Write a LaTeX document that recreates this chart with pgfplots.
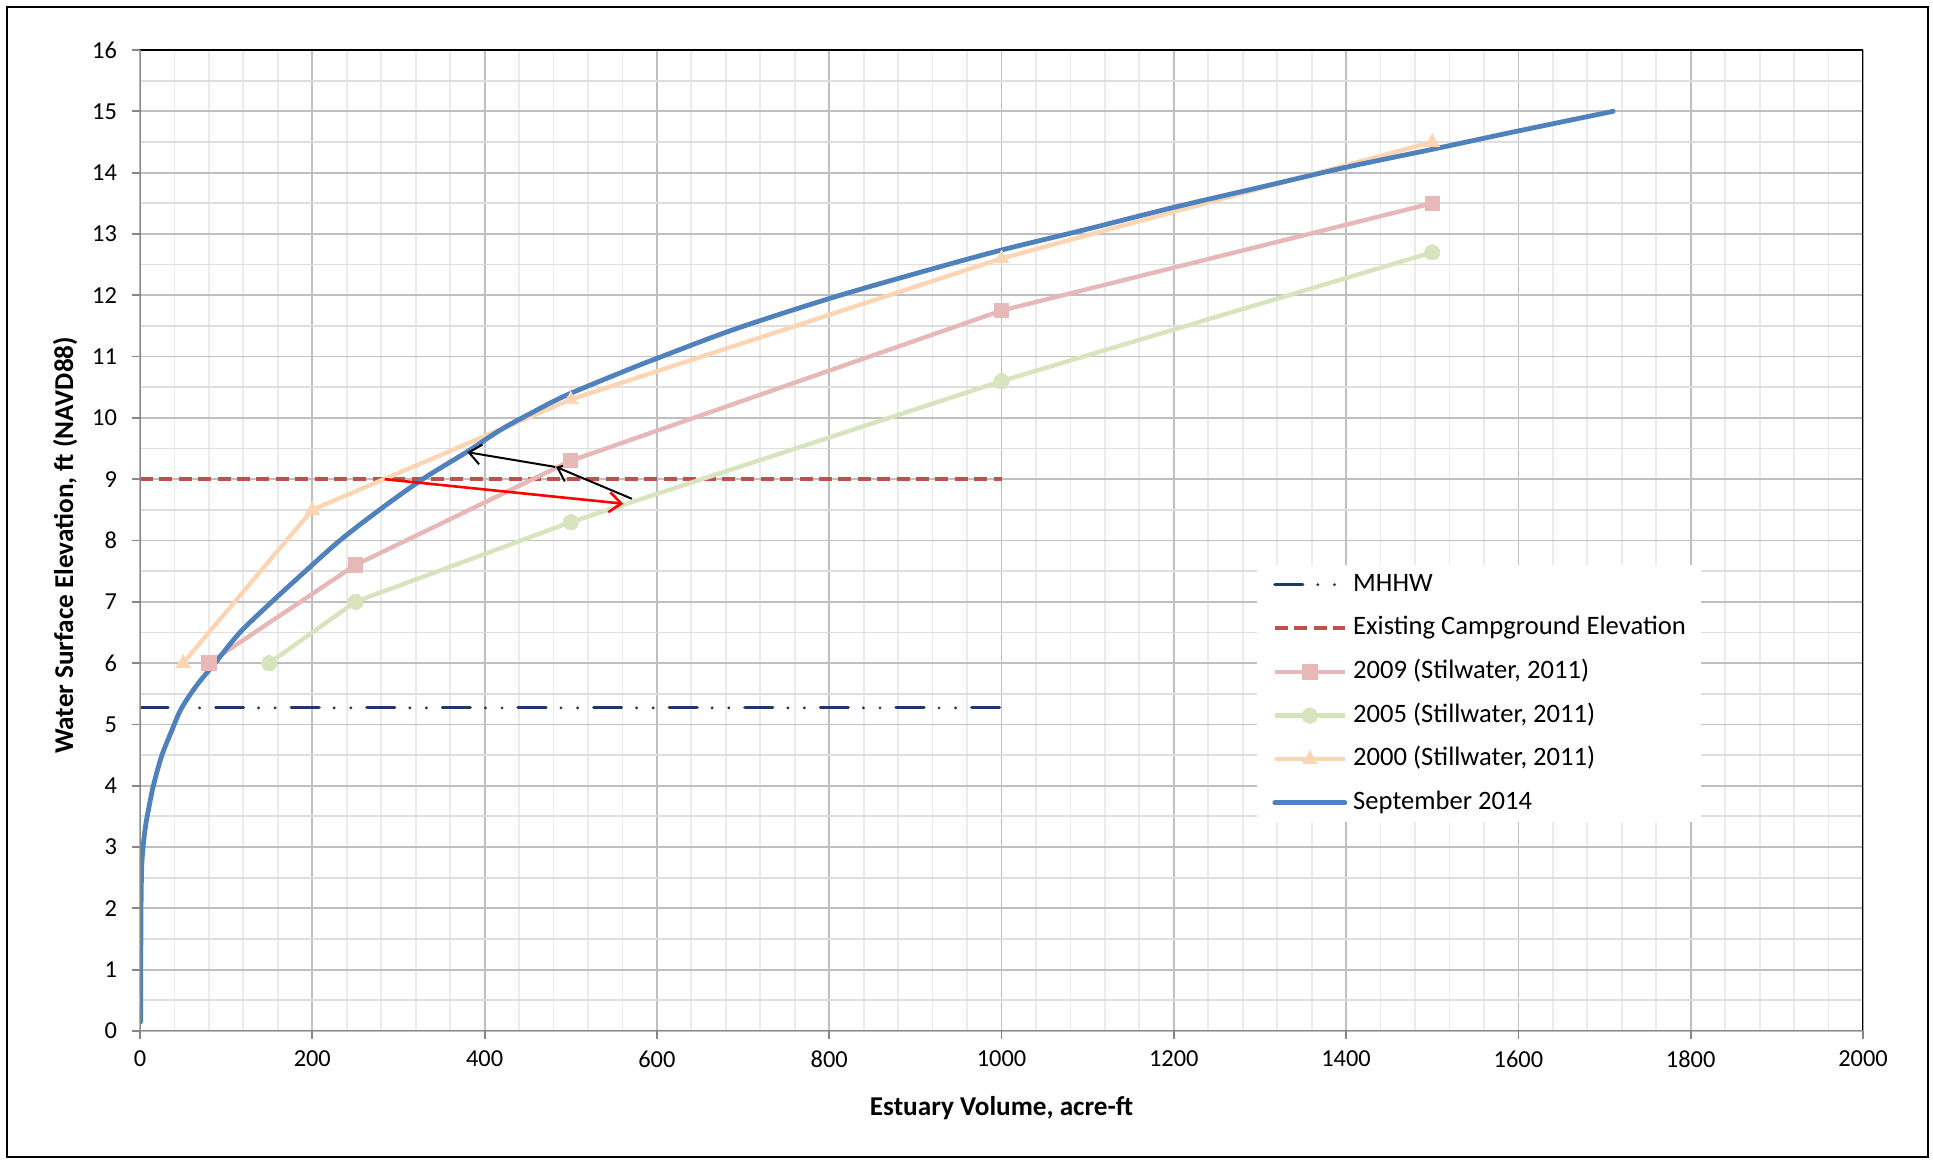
\documentclass[border=0pt]{standalone}
\usepackage{fontspec}
\setmainfont{Carlito}
\usepackage{pgfplots}
\pgfplotsset{compat=1.18}
\usetikzlibrary{arrows.meta}
\definecolor{cBlue}{RGB}{79,129,189}
\definecolor{cPink}{RGB}{230,184,183}
\definecolor{cGreen}{RGB}{215,228,189}
\definecolor{cOrange}{RGB}{252,213,180}
\definecolor{cNavy}{RGB}{31,56,100}
\definecolor{cRed}{RGB}{192,80,77}
\definecolor{gMaj}{RGB}{191,191,191}
\definecolor{gMinY}{RGB}{222,222,222}
\definecolor{gMinX}{RGB}{235,235,235}
\definecolor{gAxis}{RGB}{134,134,134}
\pgfplotsset{
  mylegimg/.style={legend image code/.code={\draw[mark repeat=2,mark phase=2,##1] plot coordinates {(0pt,0pt) (17.5pt,0pt) (35pt,0pt)}; \path (38pt,0pt);}},
}
\begin{document}
\begin{tikzpicture}
\path[use as bounding box] (-70pt,-64.5pt) rectangle (896.5pt,515.5pt);
\draw[black,line width=1.2pt] (-66.5pt,-63pt) rectangle (894pt,512pt);
\begin{axis}[
  at={(0,0)}, anchor=south west,
  scale only axis, width=861.5pt, height=490.5pt,
  xmin=0, xmax=2000, ymin=0, ymax=16,
  xtick={0,200,...,2000}, ytick={0,1,...,16},
  minor x tick num=4, minor y tick num=1,
  grid=both,
  major grid style={draw=gMaj, line width=0.9pt},
  minor x grid style={draw=gMinX, line width=0.9pt},
  minor y grid style={draw=gMinY, line width=0.9pt},
  axis line style={draw=none},
  tick pos=left, tick align=outside,
  major tick length=4pt, minor tick length=0pt,
  major tick style={draw=gAxis, line width=0.9pt},
  /pgf/number format/assume math mode=true,
  /pgf/number format/1000 sep={},
  tick label style={font=\fontsize{12.2}{14}\selectfont},
  xticklabel style={anchor=center, yshift=-10pt},
  yticklabel style={anchor=east, xshift=-4pt},
  xlabel={\textbf{Estuary Volume, acre-ft}},
  ylabel={\textbf{Water Surface Elevation, ft (NAVD88)}},
  label style={font=\fontsize{13.6}{15}\selectfont},
  xlabel style={at={(axis description cs:0.5,-0.0785)}, anchor=center},
  ylabel style={at={(axis description cs:-0.0435,0.495)}, anchor=center},
  legend style={at={(axis description cs:0.6483,0.475)}, anchor=north west,
    draw=none, fill=white, font=\fontsize{13.3}{15}\selectfont,
    inner xsep=7.5pt, inner ysep=3.5pt, row sep=9.5pt,
    nodes={inner sep=0pt, text height=9.4pt, text depth=2.9pt},
    cells={anchor=west}},
  mylegimg,
]
\addplot[cNavy, line width=1.6pt, line cap=round,
  dash pattern=on 14pt off 7.5pt on 0pt off 8.3pt on 0pt off 8pt] coordinates {(0,5.27) (1000,5.27)};
\addlegendentry{MHHW}
\addplot[cRed, line width=2pt, dash pattern=on 6.5pt off 3.2pt] coordinates {(0,9) (1000,9)};
\addlegendentry{Existing Campground Elevation}
\addplot[cPink, line width=2.2pt, mark=square*, mark size=3.6pt, mark options={solid, fill=cPink, draw=cPink, line width=0pt}]
  coordinates {(80,6) (250,7.6) (500,9.3) (1000,11.75) (1500,13.5)};
\addlegendentry{2009 (Stilwater, 2011)}
\addplot[cGreen, line width=2.2pt, mark=*, mark size=3.8pt, mark options={solid, fill=cGreen, draw=cGreen, line width=0pt}]
  coordinates {(150,6) (250,7) (500,8.3) (1000,10.6) (1500,12.7)};
\addlegendentry{2005 (Stillwater, 2011)}
\addplot[cOrange, line width=2.2pt, mark=triangle*, mark size=4.2pt, mark options={solid, fill=cOrange, draw=cOrange, line width=0pt}]
  coordinates {(50,6) (200,8.5) (500,10.3) (1000,12.6) (1500,14.5)};
\addlegendentry{2000 (Stillwater, 2011)}
\addplot[cBlue, line width=2.4pt, line join=round, line cap=round, smooth, tension=0.5] coordinates {
(0.8,0.15) (0.9,1.0) (1.2,2.0) (2,2.68) (3.9,3.05) (6.5,3.35) (9.7,3.6) (15.5,4.0)
(25,4.48) (36,4.87) (48,5.26) (66,5.64) (87,6.0) (116,6.5) (153,7.0) (192,7.5)
(232,8.0) (278,8.5) (328,9.0) (380,9.45) (418,9.80) (453,10.07) (495,10.37) (569,10.8)
(600,10.97) (689,11.44) (801,11.95) (902,12.36) (998,12.73) (1100,13.08) (1199,13.43)
(1300,13.76) (1401,14.09) (1500,14.38) (1600,14.68) (1710,15.0)};
\addlegendentry{September 2014}
\addplot[black, line width=1pt, -{Straight Barb[length=6pt,width=10pt]}, forget plot] coordinates {(571,8.68) (483,9.20)};
\addplot[black, line width=1pt, -{Straight Barb[length=6pt,width=10pt]}, forget plot] coordinates {(482,9.20) (380,9.44)};
\addplot[red, line width=1.3pt, -{Straight Barb[length=6pt,width=10pt]}, forget plot] coordinates {(284,9.0) (561,8.6)};
\draw[black, line width=1pt] (rel axis cs:0,1) -- (rel axis cs:1,1) -- (rel axis cs:1,0);
\draw[gAxis, line width=1pt] (rel axis cs:0,1) -- (rel axis cs:0,0) -- (rel axis cs:1,0);
\end{axis}
\end{tikzpicture}
\end{document}
